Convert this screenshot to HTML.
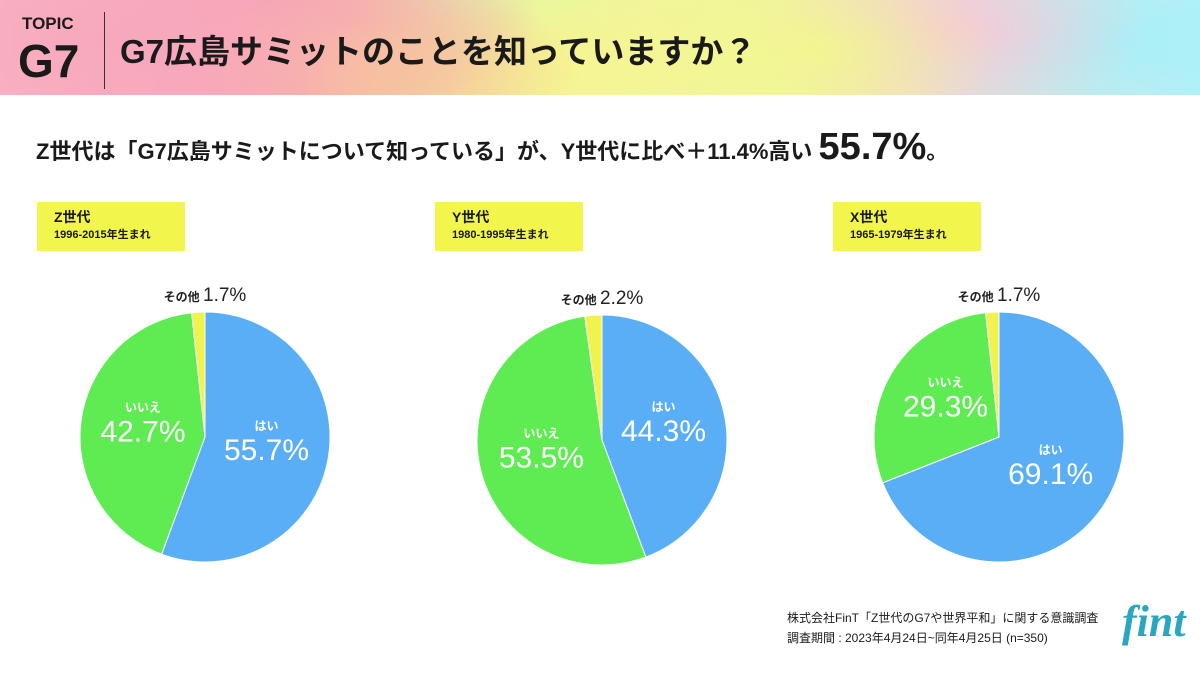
<!DOCTYPE html>
<html><head><meta charset="utf-8">
<style>
*{margin:0;padding:0;box-sizing:border-box}
body{width:1200px;height:675px;background:#fff;position:relative;overflow:hidden;font-family:"Liberation Sans","Noto Sans CJK JP",sans-serif;color:#1a1a1a}
#hdr{position:absolute;left:0;top:0;width:1200px;height:95px;
background:
radial-gradient(ellipse 260px 120px at 130px 40px,#f8a8bc 0%,rgba(248,168,188,0) 100%),
radial-gradient(ellipse 200px 90px at 380px 70px,#f7c0a0 0%,rgba(247,192,160,0) 100%),
radial-gradient(ellipse 200px 90px at 340px 20px,#f7a4b4 0%,rgba(247,164,180,0) 100%),
radial-gradient(ellipse 250px 100px at 560px 60px,#f6f590 0%,rgba(246,245,144,0) 100%),
radial-gradient(ellipse 180px 80px at 470px 10px,#d8f8b0 0%,rgba(216,248,176,0) 100%),
radial-gradient(ellipse 200px 90px at 800px 50px,#f2f690 0%,rgba(242,246,144,0) 100%),
radial-gradient(ellipse 200px 90px at 950px 30px,#f6c8d8 0%,rgba(246,200,216,0) 100%),
radial-gradient(ellipse 240px 110px at 1120px 40px,#a8f0f8 0%,rgba(168,240,248,0) 100%),
linear-gradient(90deg,#f8b4c4 0%,#f6a0b4 25%,#f2f49c 45%,#eef6a0 65%,#f2dcd0 80%,#b8f0f8 100%);}
.t{position:absolute;white-space:nowrap}
.box{position:absolute;background:#f2f64c;width:148px;height:49px;padding:6px 0 0 17px}
.box b{display:block;font-size:14px;line-height:18px}
.box span{display:block;font-size:11px;font-weight:bold;line-height:18px}
</style></head><body>
<div id="hdr"></div>
<div class="t" style="left:22px;top:14px;font-size:17px;font-weight:bold">TOPIC</div>
<div class="t" style="left:18px;top:33px;font-size:46px;font-weight:bold;line-height:56px">G7</div>
<div style="position:absolute;left:104px;top:12px;width:1px;height:77px;background:#333"></div>
<div class="t" style="left:120px;top:32px;font-size:33px;font-weight:bold;line-height:40px">G7広島サミットのことを知っていますか？</div>
<div class="t" style="left:36px;top:122px;font-size:22px;font-weight:bold;line-height:50px">Z世代は「G7広島サミットについて知っている」が、Y世代に比べ＋11.4%高い <span style="font-size:38px">55.7%</span>。</div>

<div class="box" style="left:37px;top:202px"><b>Z世代</b><span>1996-2015年生まれ</span></div>
<div class="box" style="left:435px;top:202px"><b>Y世代</b><span>1980-1995年生まれ</span></div>
<div class="box" style="left:833px;top:202px"><b>X世代</b><span>1965-1979年生まれ</span></div>

<svg id="pies" width="1200" height="675" style="position:absolute;left:0;top:0"></svg>

<div class="t" style="left:787px;top:608px;font-size:12px;line-height:20px">株式会社FinT「Z世代のG7や世界平和」に関する意識調査<br>調査期間 : 2023年4月24日~同年4月25日 (n=350)</div>
<div class="t" style="left:1122px;top:596px;font-size:44px;font-style:italic;font-family:'Liberation Serif',serif;color:#2aa6c0;font-weight:bold">fint</div>

<script>
const groups=['Z世代','Y世代','X世代'];
const yesVals=[55.7,44.3,69.1];
const noVals=[42.7,53.5,29.3];
const otherVals=[1.7,2.2,1.7];
const catLabels=['はい','いいえ','その他'];
const colors=['#5aaef5','#5fec52','#f0f34c'];
const centers=[[205,437],[602,440],[999,437]];
const R=125;
const svg=document.getElementById('pies');
const NS='http://www.w3.org/2000/svg';
function pt(cx,cy,r,f){const a=f*2*Math.PI-Math.PI/2;return [cx+r*Math.cos(a),cy+r*Math.sin(a)];}
function txt(x,y,s,size,fill,weight,anchor){const t=document.createElementNS(NS,'text');t.setAttribute('x',x);t.setAttribute('y',y);t.setAttribute('font-size',size);t.setAttribute('fill',fill);t.setAttribute('font-weight',weight);t.setAttribute('text-anchor',anchor||'middle');t.setAttribute('font-family','"Liberation Sans","Noto Sans CJK JP",sans-serif');t.textContent=s;svg.appendChild(t);return t;}
groups.forEach((g,i)=>{
  const [cx,cy]=centers[i];
  const vals=[yesVals[i],noVals[i],otherVals[i]];
  const tot=vals.reduce((a,b)=>a+b,0);
  let acc=0;
  vals.forEach((v,k)=>{
    const f0=acc/tot,f1=(acc+v)/tot;acc+=v;
    const p0=pt(cx,cy,R,f0),p1=pt(cx,cy,R,f1);
    const p=document.createElementNS(NS,'path');
    p.setAttribute('d',`M${cx},${cy}L${p0[0]},${p0[1]}A${R},${R} 0 ${f1-f0>0.5?1:0} 1 ${p1[0]},${p1[1]}Z`);
    p.setAttribute('fill',colors[k]);p.setAttribute('stroke','#fff');p.setAttribute('stroke-width','1');
    
    
    svg.appendChild(p);
    if(k<2){
      const m=(f0+f1)/2;const [lx,ly]=pt(cx,cy,R*0.5,m);
      const a=txt(lx,ly-18,catLabels[k],12,'#fff','bold');
      
      
      const b=txt(lx,ly+12,v.toFixed(1)+'%',30,'#fff','normal');
      
      
    }else{
      const o=txt(cx,cy-136,'',12,'#222','bold');
      
      
      o.innerHTML=`その他 <tspan font-size="19" font-weight="normal">${v.toFixed(1)}%</tspan>`;
    }
  });
});
</script>
</body></html>
